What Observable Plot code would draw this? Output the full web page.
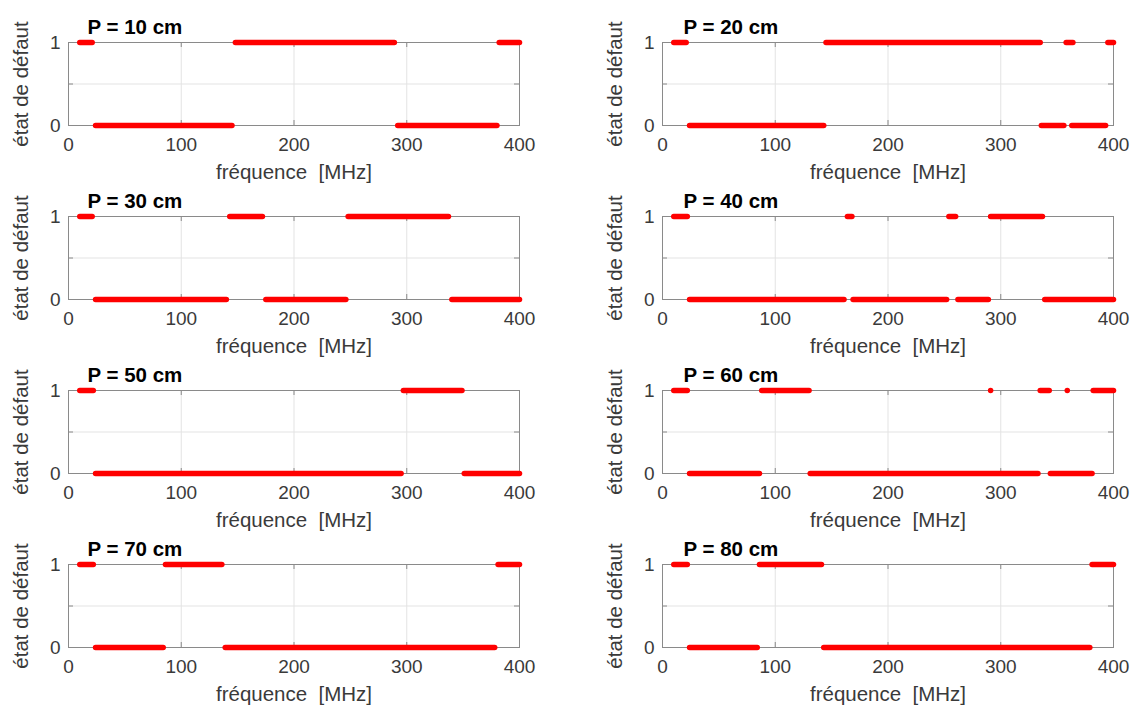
<!DOCTYPE html>
<html>
<head>
<meta charset="utf-8">
<script src="https://cdn.jsdelivr.net/npm/d3@7"></script>
<script src="https://cdn.jsdelivr.net/npm/@observablehq/plot@0.6"></script>
<style>
  html, body { margin: 0; padding: 0; background: #ffffff; }
  #chart { position: relative; width: 1132px; height: 705px; background: #ffffff; overflow: hidden; }
  .panel { position: absolute; }
  .panel svg text { white-space: pre; }
</style>
</head>
<body>
<div id="chart"></div>
<script>
// ---- data (segments of constant state, in MHz) ----
const titles = ["P = 10 cm", "P = 20 cm", "P = 30 cm", "P = 40 cm", "P = 50 cm", "P = 60 cm", "P = 70 cm", "P = 80 cm"];
const xTickValues = [0, 100, 200, 300, 400];
const xGridValues = [100, 200, 300];
const yTickValues = [0, 1];
const yGridValues = [0.5];
const xLabel = "fréquence  [MHz]";
const yLabel = "état de défaut";

const p10Start = [10, 148, 382, 24, 292];
const p10End   = [21, 289, 400, 145, 380];
const p10State = [1, 1, 1, 0, 0];

const p20Start = [10, 145, 358, 395, 24, 336, 363];
const p20End   = [21, 335, 364, 400, 143, 356, 393];
const p20State = [1, 1, 1, 1, 0, 0, 0];

const p30Start = [10, 143, 248, 24, 175, 340];
const p30End   = [21, 172, 337, 140, 246, 400];
const p30State = [1, 1, 1, 0, 0, 0];

const p40Start = [10, 164, 254, 291, 24, 169, 262, 339];
const p40End   = [22, 168, 260, 337, 161, 252, 289, 400];
const p40State = [1, 1, 1, 1, 0, 0, 0, 0];

const p50Start = [10, 297, 24, 351];
const p50End   = [22, 349, 295, 400];
const p50State = [1, 1, 0, 0];

const p60Start = [10, 88, 291, 335, 359, 382, 24, 131, 344];
const p60End   = [22, 130, 291, 343, 359, 400, 86, 333, 381];
const p60State = [1, 1, 1, 1, 1, 1, 0, 0, 0];

const p70Start = [10, 86, 381, 24, 139];
const p70End   = [22, 136, 400, 84, 378];
const p70State = [1, 1, 1, 0, 0];

const p80Start = [10, 86, 381, 24, 143];
const p80End   = [22, 141, 400, 84, 379];
const p80State = [1, 1, 1, 0, 0];

const starts = [p10Start, p20Start, p30Start, p40Start, p50Start, p60Start, p70Start, p80Start];
const ends   = [p10End, p20End, p30End, p40End, p50End, p60End, p70End, p80End];
const states = [p10State, p20State, p30State, p40State, p50State, p60State, p70State, p80State];

// ---- layout ----
const chart = document.getElementById("chart");
const rowStep = 174;
const svgH = 174;
const mTop = 42, mBottom = 49;
const cols = [
  {left: 0,   width: 560, marginLeft: 68,  marginRight: 41, titleDx: 19},
  {left: 560, width: 572, marginLeft: 102, marginRight: 19, titleDx: 21}
];
const axisColor = "#8a8a8a";
const gridColor = "#e3e3e3";
const textColor = "#3a3a3a";
const font = "'Liberation Sans', Arial, Helvetica, sans-serif";

titles.forEach((title, i) => {
  const col = cols[i % 2];
  const row = Math.floor(i / 2);
  const segs = starts[i].map((s, j) => ({start: s, end: ends[i][j], state: states[i][j]}));
  const plotW = col.width - col.marginLeft - col.marginRight;
  const plotH = svgH - mTop - mBottom;
  const tickLen = 5;

  const svg = Plot.plot({
    width: col.width,
    height: svgH,
    marginTop: mTop,
    marginBottom: mBottom,
    marginLeft: col.marginLeft,
    marginRight: col.marginRight,
    x: {domain: [0, 400]},
    y: {domain: [0, 1]},
    style: {fontFamily: font, fontSize: "19px", color: textColor, background: "transparent", overflow: "visible"},
    marks: [
      Plot.gridX(xGridValues, {stroke: gridColor, strokeOpacity: 1, strokeWidth: 1}),
      Plot.gridY(yGridValues, {stroke: gridColor, strokeOpacity: 1, strokeWidth: 1}),
      Plot.frame({stroke: axisColor, strokeWidth: 1}),
      // inward tick marks (MATLAB box style)
      Plot.tickX(xGridValues, {x: d => d, stroke: axisColor, insetTop: plotH - tickLen}),
      Plot.tickX(xGridValues, {x: d => d, stroke: axisColor, insetBottom: plotH - tickLen}),
      Plot.tickY(yGridValues, {y: d => d, stroke: axisColor, insetRight: plotW - tickLen}),
      Plot.tickY(yGridValues, {y: d => d, stroke: axisColor, insetLeft: plotW - tickLen}),
      Plot.axisX(xTickValues, {tickSize: 0, tickPadding: 12, fontSize: 19, fill: textColor, label: null, tickFormat: d => String(d)}),
      Plot.axisY(yTickValues, {tickSize: 0, tickPadding: 8, fontSize: 19, fill: textColor, label: null, tickFormat: d => String(d)}),
      Plot.link(segs, {
        x1: "start", x2: "end", y1: "state", y2: "state",
        stroke: "#ff0000", strokeWidth: 5.5, strokeLinecap: "round"
      }),
      Plot.text([xLabel], {text: d => d, frameAnchor: "bottom", dy: 47, lineAnchor: "middle", textAnchor: "middle", fontSize: 20.5, fill: textColor}),
      Plot.text([yLabel], {text: d => d, frameAnchor: "left", dx: -47, rotate: -90, lineAnchor: "middle", textAnchor: "middle", fontSize: 20.5, fill: textColor}),
      Plot.text([title], {text: d => d, frameAnchor: "top-left", dx: col.titleDx, dy: -15, lineAnchor: "middle", textAnchor: "start", fontSize: 20.5, fontWeight: "bold", fill: "#000000"})
    ]
  });

  const wrap = document.createElement("div");
  wrap.className = "panel";
  wrap.style.left = col.left + "px";
  wrap.style.top = (row * rowStep) + "px";
  wrap.appendChild(svg);
  chart.appendChild(wrap);
});
</script>
</body>
</html>
